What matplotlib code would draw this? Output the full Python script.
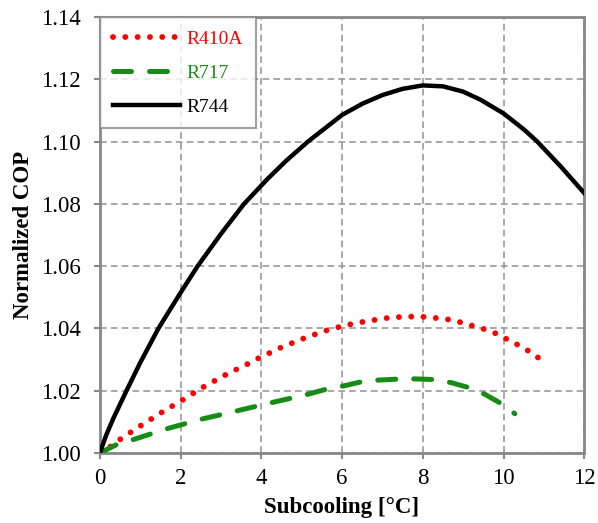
import matplotlib
matplotlib.use("Agg")
import matplotlib.pyplot as plt

plt.rcParams['font.family'] = ['Liberation Serif', 'DejaVu Serif']

# Data
x_r744 = [0, 0.15, 0.33, 0.66, 1.0, 1.45, 2.0, 2.42, 3.0, 3.57, 4.15, 4.6,
          5.15, 6.0, 6.5, 7.0, 7.5, 8.0, 8.5, 9.0, 9.43, 10.0, 10.5, 10.84,
          11.42, 12.0]
y_r744 = [1.000, 1.0055, 1.0110, 1.0200, 1.0290, 1.0400, 1.0515, 1.0600,
          1.0704, 1.0800, 1.0880, 1.0937, 1.1000, 1.1086, 1.1122, 1.1150,
          1.1170, 1.1181, 1.1178, 1.1161, 1.1135, 1.1091, 1.1040, 1.1000,
          1.0920, 1.0835]

x_r410a = [0, 0.27, 0.55, 0.83, 1.09, 1.37, 1.64, 1.92, 2.2, 2.47, 2.75,
           3.04, 3.33, 3.62, 3.91, 4.2, 4.49, 4.8, 5.11, 5.42, 5.72, 6.03,
           6.36, 6.67, 7.0, 7.32, 7.65, 7.96, 8.29, 8.62, 8.93, 9.25, 9.57,
           9.87, 10.16, 10.45, 10.72, 10.99]
y_r410a = [1.000, 1.0021, 1.0048, 1.0072, 1.0094, 1.0117, 1.0139, 1.0160,
           1.0182, 1.0205, 1.0225, 1.0246, 1.0265, 1.0283, 1.0303, 1.0321,
           1.0339, 1.0355, 1.0371, 1.0385, 1.0398, 1.0408, 1.0418, 1.0424,
           1.0432, 1.0436, 1.0438, 1.0438, 1.0434, 1.0429, 1.0420, 1.0408,
           1.0396, 1.0381, 1.0360, 1.0341, 1.0320, 1.0293]

x_r717 = [0, 0.42, 0.83, 1.67, 2.5, 3.0, 4.2, 5.11, 5.7, 6.03, 6.49, 6.9,
          7.36, 7.78, 8.24, 8.7, 9.11, 9.53, 9.95, 10.28]
y_r717 = [1.000, 1.0027, 1.0043, 1.0078, 1.0108, 1.0123, 1.0160, 1.0187,
          1.0208, 1.0215, 1.0229, 1.0234, 1.0237, 1.0238, 1.0236, 1.0226,
          1.0211, 1.0189, 1.0158, 1.0126]

x_ticks = [0, 2, 4, 6, 8, 10, 12]
y_ticks = [1.00, 1.02, 1.04, 1.06, 1.08, 1.10, 1.12, 1.14]

red = '#ff0000'
green = '#168c16'

fig = plt.figure(figsize=(5.98, 5.23), dpi=100)
ax = fig.add_axes([0.167, 0.134, 0.81, 0.833])

ax.plot(x_r410a, y_r410a, color=red, linestyle=(0, (0.01, 2.1)),
        linewidth=4.2, dash_capstyle='round', label='R410A', zorder=3)
ax.plot(x_r717, y_r717, color=green, linestyle=(0, (3.6, 3.6)),
        linewidth=3.6, dash_capstyle='round', dash_joinstyle='round',
        label='R717', zorder=3)
ax.plot(x_r744, y_r744, color='black', linestyle='-', linewidth=3.2,
        solid_joinstyle='round', label='R744', zorder=3)

ax.set_xlim(0, 12)
ax.set_ylim(1.00, 1.14)
ax.set_xticks(x_ticks)
ax.set_yticks(y_ticks)
ax.set_xticklabels([str(t) for t in x_ticks])
ax.set_yticklabels([f"{t:.2f}" for t in y_ticks])
ax.tick_params(labelsize=16.5, color='#888888', length=4.5, width=1.5)
ax.tick_params(axis='x', pad=6)
ax.tick_params(axis='y', pad=9)

ax.grid(True, color='#999999', linestyle=(0, (4, 2.5)), linewidth=1.2)
for s in ax.spines.values():
    s.set_color('#888888')
    s.set_linewidth(2)

ax.set_xlabel('Subcooling [°C]', fontsize=16.5, fontweight='bold', labelpad=6)
ax.set_ylabel('Normalized COP', fontsize=16.5, fontweight='bold', labelpad=5)

leg = ax.legend(loc='upper left', fontsize=14, handlelength=3.45, frameon=True,
                fancybox=False, edgecolor='#888888', borderaxespad=0.0,
                labelspacing=0.85, handletextpad=0.35, borderpad=0.65)
leg.get_frame().set_linewidth(1.5)
for txt, c in zip(leg.get_texts(), [red, green, 'black']):
    txt.set_color(c)

fig.savefig('out.png', dpi=100)
